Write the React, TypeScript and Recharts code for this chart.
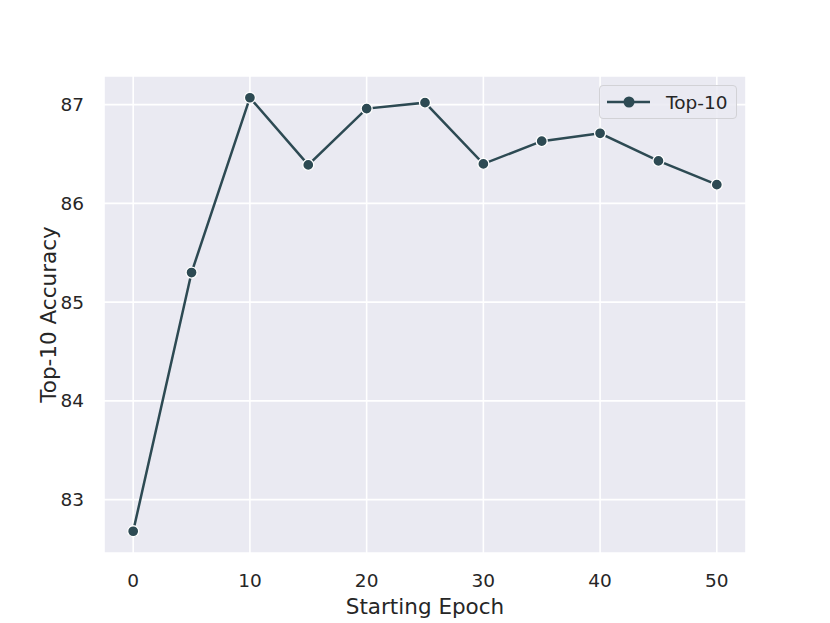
import React from 'react';
import { LineChart, Line, XAxis, YAxis, CartesianGrid, Label } from 'recharts';

const epochs = [0, 5, 10, 15, 20, 25, 30, 35, 40, 45, 50];
const top10 = [82.68, 85.3, 87.07, 86.39, 86.96, 87.02, 86.4, 86.63, 86.71, 86.43, 86.19];
const xTicks = [0, 10, 20, 30, 40, 50];
const yTicks = [83, 84, 85, 86, 87];
const seriesName = 'Top-10';

const data = epochs.map((e, i) => ({ epoch: e, top10: top10[i] }));

const LINE = '#2d4a53';
const TEXT = '#262626';
const FONT = '"DejaVu Sans", sans-serif';

// legend drawn as an overlay so it doesn't eat into the plot area
const LegendBox = () => (
  <div
    style={{
      position: 'absolute',
      left: 599,
      top: 85,
      width: 136,
      height: 32,
      border: '1px solid #d2d2d6',
      borderRadius: 4,
      background: 'rgba(234,234,242,0.85)',
      display: 'flex',
      alignItems: 'center',
      fontFamily: FONT,
      fontSize: 18.5,
      color: TEXT,
    }}
  >
    <svg width={60} height={20} style={{ marginLeft: 6 }}>
      <line x1={1} y1={10} x2={44} y2={10} stroke={LINE} strokeWidth={2.5} />
      <circle cx={23} cy={10} r={5.5} fill={LINE} />
    </svg>
    <span>{seriesName}</span>
  </div>
);

export default function App() {
  return (
    <div style={{ position: 'absolute', left: 0, top: 0, width: 830, height: 623, background: '#fff' }}>
      <LineChart width={830} height={623} data={data} margin={{ top: 76, right: 84, bottom: 30, left: 44 }}>
        <CartesianGrid fill="#eaeaf2" stroke="#ffffff" strokeWidth={1.6} />
        <XAxis
          dataKey="epoch"
          type="number"
          domain={[-2.5, 52.5]}
          ticks={xTicks}
          axisLine={false}
          tickLine={false}
          tickSize={0}
          tickMargin={21}
          height={40}
          tick={{ fill: TEXT, fontSize: 18.5, fontFamily: FONT }}
        >
          <Label
            content={({ viewBox }: any) => (
              <text
                x={viewBox.x + viewBox.width / 2}
                y={viewBox.y + 61}
                textAnchor="middle"
                fill={TEXT}
                fontSize={21.5}
                fontFamily={FONT}
              >
                Starting Epoch
              </text>
            )}
          />
        </XAxis>
        <YAxis
          type="number"
          domain={[82.46, 87.29]}
          ticks={yTicks}
          axisLine={false}
          tickLine={false}
          tickSize={0}
          tickMargin={20}
          width={60}
          tick={{ fill: TEXT, fontSize: 18.5, fontFamily: FONT }}
        >
          <Label
            content={({ viewBox }: any) => {
              const cx = 56;
              const cy = viewBox.y + viewBox.height / 2;
              return (
                <text
                  x={cx}
                  y={cy}
                  transform={`rotate(-90, ${cx}, ${cy})`}
                  textAnchor="middle"
                  fill={TEXT}
                  fontSize={21.5}
                  fontFamily={FONT}
                >
                  Top-10 Accuracy
                </text>
              );
            }}
          />
        </YAxis>
        <Line
          type="linear"
          dataKey="top10"
          name={seriesName}
          stroke={LINE}
          strokeWidth={2.5}
          dot={{ r: 5.5, fill: LINE, stroke: '#ffffff', strokeWidth: 1.3 }}
          activeDot={false}
          isAnimationActive={false}
        />
      </LineChart>
      <LegendBox />
    </div>
  );
}
